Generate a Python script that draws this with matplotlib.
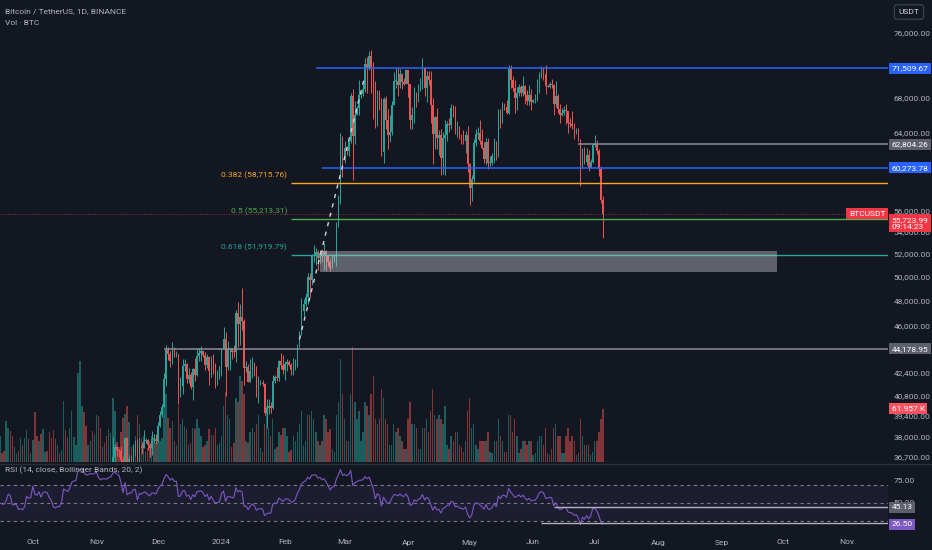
import numpy as np
import pandas as pd
import matplotlib
matplotlib.use("Agg")
import matplotlib.pyplot as plt
import matplotlib.dates as mdates
from matplotlib.lines import Line2D
from matplotlib.patches import Rectangle
from matplotlib.ticker import FixedLocator, FuncFormatter, NullLocator
from matplotlib.transforms import blended_transform_factory

plt.rcParams["font.family"] = ["Roboto", "DejaVu Sans"]

BG = "#131722"
TXT = "#b2b5be"
UP = "#26a69a"
DOWN = "#ef5350"
BLUE = "#2962ff"
GRAY = "#8a8d96"

# daily BTCUSDT candles, 2023-09-01 .. 2024-07-05, prices in thousands USDT
first_day = "2023-09-01"
close_k = [
    25.94, 25.80, 25.87, 25.78, 25.75, 25.76, 26.24, 25.90, 25.89, 25.83, 25.16, 25.84, 26.23, 26.53, 26.60,
    26.57, 26.53, 26.76, 27.21, 27.13, 26.57, 26.58, 26.58, 26.25, 26.30, 26.22, 26.37, 27.03, 26.91, 26.97,
    28.00, 27.50, 27.43, 27.78, 27.41, 27.93, 27.96, 27.92, 27.59, 27.39, 26.87, 26.76, 26.86, 26.85, 27.15, 28.50,
    28.40, 28.32, 28.71, 29.67, 29.91, 29.99, 33.07, 33.90, 34.50, 34.15, 33.89, 34.08, 34.53, 34.48, 34.64,
    35.42, 34.94, 34.73, 35.08, 35.05, 35.04, 35.42, 35.63, 36.70, 37.31, 37.13, 37.06, 36.49, 35.55, 37.88,
    36.16, 36.59, 36.58, 37.39, 37.47, 35.81, 37.42, 37.29, 37.72, 37.79, 37.45, 37.24, 37.83, 37.85, 37.71,
    38.69, 39.46, 39.97, 41.98, 44.08, 43.77, 43.29, 44.17, 43.71, 43.79, 41.24, 41.45, 42.89, 43.02, 41.94, 42.26,
    41.36, 42.66, 42.26, 43.65, 43.87, 43.99, 43.73, 43.01, 43.58, 42.51, 43.45, 42.58, 42.07, 42.14, 42.28,
    44.18, 44.95, 42.85, 44.15, 44.16, 43.97, 43.93, 46.97, 46.12, 46.65, 46.34, 42.78, 42.84, 41.73, 42.51, 43.14,
    42.74, 41.26, 41.62, 41.66, 41.58, 39.54, 39.89, 40.07, 39.93, 41.81, 42.12, 42.03, 43.30, 42.94, 42.58,
    43.08, 43.20, 42.99, 42.58, 42.66, 43.09, 44.34, 45.29, 47.13, 47.75, 48.29, 49.96, 49.70, 51.80, 51.91,
    52.14, 51.65, 52.13, 51.78, 52.26, 51.85, 51.30, 50.73, 51.57, 51.73, 54.48, 57.04, 62.43, 61.13,
    62.39, 62.03, 63.13, 68.25, 63.72, 66.07, 66.85, 68.30, 68.48, 69.02, 72.12, 71.48, 73.07, 71.39, 69.40, 65.30,
    68.39, 67.60, 61.93, 67.84, 65.50, 63.80, 64.07, 67.21, 69.99, 69.99, 69.45, 70.78, 69.85, 69.58, 71.28,
    69.65, 65.46, 65.96, 68.51, 67.84, 68.90, 69.36, 71.62, 69.14, 70.59, 70.06, 67.18, 63.90, 65.74, 63.42,
    63.81, 61.28, 63.51, 63.84, 64.99, 64.93, 66.84, 66.41, 64.29, 64.49, 63.77, 63.46, 63.12, 63.84, 60.64,
    58.25, 59.12, 62.89, 63.89, 64.03, 63.16, 62.33, 61.19, 63.07, 60.79, 60.82, 61.48, 62.94, 61.58, 66.27, 65.23,
    67.05, 66.94, 66.28, 71.45, 70.14, 69.12, 67.93, 68.53, 69.29, 68.50, 69.39, 68.37, 67.64, 68.35, 67.49,
    67.71, 67.75, 68.80, 70.55, 71.11, 70.80, 69.35, 69.31, 69.65, 69.54, 67.32, 68.24, 66.75, 66.01, 66.19,
    66.64, 66.49, 65.14, 64.96, 64.83, 64.10, 64.25, 63.18, 60.28, 61.80, 60.86, 61.67, 60.32, 60.88, 62.68,
    62.77, 62.04, 60.14, 57.04, 55.72399,
]
high_k = [
    26.13, 25.99, 26.10, 26.00, 25.88, 25.95, 26.40, 26.44, 25.94, 25.98, 25.88, 26.54, 26.40, 26.81, 26.88,
    26.68, 26.63, 27.41, 27.49, 27.40, 27.15, 26.74, 26.63, 26.72, 26.43, 26.39, 26.81, 27.30, 27.22, 27.08,
    28.06, 28.58, 27.67, 27.83, 28.12, 28.28, 28.05, 28.10, 27.99, 27.74, 27.48, 26.94, 27.10, 26.98, 27.29, 30.00,
    28.62, 28.98, 28.89, 30.21, 30.36, 30.20, 34.74, 35.28, 35.13, 34.82, 34.24, 34.48, 34.76, 34.85, 34.72,
    35.98, 35.98, 34.95, 35.28, 35.38, 35.29, 35.89, 35.98, 37.97, 37.53, 37.41, 37.23, 37.42, 36.76, 37.98,
    37.99, 36.85, 36.85, 37.50, 37.75, 37.85, 37.88, 37.65, 38.42, 37.89, 37.82, 37.59, 38.39, 38.17, 38.16,
    38.95, 39.68, 40.20, 42.41, 44.49, 44.30, 44.05, 44.70, 44.36, 44.03, 43.75, 42.10, 43.43, 43.42, 43.09, 42.73,
    42.43, 42.75, 43.47, 44.24, 44.28, 44.37, 44.02, 43.95, 43.78, 43.62, 43.68, 43.80, 43.11, 42.60, 42.90,
    44.18, 45.88, 45.50, 44.77, 44.33, 44.21, 44.49, 47.25, 47.90, 47.70, 49.05, 46.52, 43.26, 43.08, 43.40, 43.58,
    43.20, 42.93, 42.20, 41.87, 41.88, 41.70, 40.56, 40.56, 40.30, 42.23, 42.22, 42.84, 43.32, 43.88, 43.74,
    43.29, 43.42, 43.38, 43.12, 43.53, 43.40, 44.52, 45.58, 48.20, 48.16, 48.59, 50.33, 50.37, 52.00, 52.82,
    52.57, 52.38, 52.40, 52.49, 52.98, 52.37, 52.03, 51.55, 51.98, 52.00, 54.90, 57.59, 64.00, 63.68,
    63.10, 62.43, 63.23, 68.50, 69.00, 67.64, 67.00, 70.10, 68.80, 69.90, 72.80, 72.90, 73.65, 73.78, 72.35, 70.00,
    68.90, 68.90, 68.00, 68.05, 68.24, 66.65, 65.97, 67.60, 71.10, 71.55, 71.70, 71.50, 70.90, 70.30, 71.30,
    71.35, 69.68, 66.90, 69.30, 68.72, 69.63, 70.33, 72.80, 71.75, 71.20, 71.25, 71.23, 68.00, 65.95, 66.87,
    64.36, 64.50, 64.12, 65.45, 65.39, 65.70, 67.25, 67.20, 67.07, 65.29, 64.80, 63.90, 64.37, 64.24, 64.73,
    60.78, 59.60, 63.32, 64.50, 64.65, 65.50, 64.44, 62.99, 63.45, 63.45, 61.49, 61.82, 63.45, 63.10, 66.70, 66.70,
    67.45, 67.40, 67.70, 71.93, 71.95, 70.60, 70.10, 69.22, 69.58, 69.53, 70.60, 69.55, 68.90, 69.50, 69.00,
    67.86, 68.41, 70.28, 71.06, 71.76, 71.63, 71.99, 69.53, 69.85, 70.20, 69.58, 70.00, 68.45, 67.30, 66.80,
    66.99, 67.30, 66.00, 65.73, 66.48, 65.07, 64.53, 64.52, 63.37, 62.40, 62.50, 62.40, 62.19, 61.20, 62.90,
    63.84, 63.29, 62.27, 60.50, 57.47,
]
low_k = [
    25.33, 25.65, 25.70, 25.60, 25.58, 25.39, 25.64, 25.65, 25.80, 25.60, 24.90, 25.13, 25.77, 26.12, 26.23,
    26.48, 26.40, 26.39, 26.67, 26.82, 26.36, 26.49, 26.51, 26.13, 26.00, 26.07, 26.05, 26.31, 26.66, 26.89,
    26.95, 27.33, 27.16, 27.21, 27.35, 27.20, 27.84, 27.73, 27.26, 27.28, 26.55, 26.56, 26.69, 26.79, 26.83, 27.13,
    28.10, 28.14, 28.26, 28.60, 29.45, 29.61, 30.00, 32.83, 33.40, 33.70, 33.36, 33.88, 34.03, 34.04, 34.07,
    34.30, 34.74, 34.10, 34.52, 34.52, 34.73, 34.53, 35.11, 35.53, 36.32, 36.77, 36.70, 36.35, 35.10, 35.36,
    35.53, 35.88, 36.30, 36.13, 36.75, 35.63, 35.65, 36.88, 37.53, 37.60, 37.14, 36.71, 36.84, 37.56, 37.50,
    37.62, 38.65, 39.28, 39.97, 41.42, 43.34, 42.82, 43.08, 43.58, 43.56, 40.22, 40.68, 40.88, 42.52, 41.68, 41.70,
    41.25, 40.50, 41.80, 42.17, 43.29, 43.30, 43.58, 42.63, 42.75, 41.52, 42.10, 42.30, 41.30, 41.52, 41.97,
    42.16, 44.18, 40.75, 42.62, 42.61, 43.40, 43.56, 43.20, 44.30, 44.50, 45.60, 41.50, 42.43, 41.72, 41.72, 42.05,
    42.20, 40.68, 40.28, 41.50, 41.45, 39.43, 38.55, 39.48, 39.55, 39.83, 41.65, 41.80, 41.80, 42.68, 42.28,
    41.88, 42.55, 42.87, 42.23, 42.26, 42.57, 42.80, 44.33, 45.23, 46.78, 47.54, 47.72, 48.30, 49.30, 51.33,
    51.00, 50.60, 51.16, 51.30, 50.60, 50.50, 50.95, 50.52, 50.90, 51.30, 50.90, 54.45, 56.70, 59.30,
    60.80, 61.67, 61.50, 62.90, 59.00, 62.80, 66.00, 66.00, 68.00, 68.25, 68.70, 68.60, 71.33, 68.50, 65.60, 64.60,
    64.80, 66.60, 61.50, 60.78, 64.50, 62.26, 63.00, 63.80, 67.15, 69.20, 68.20, 69.10, 69.00, 69.50, 69.60,
    68.10, 64.50, 64.50, 65.10, 66.90, 67.48, 68.85, 69.04, 68.20, 67.50, 69.55, 65.10, 60.66, 62.30, 62.30,
    61.63, 59.60, 59.69, 59.60, 63.10, 64.17, 64.47, 65.76, 63.95, 63.61, 63.30, 62.83, 62.80, 61.80, 59.86,
    56.55, 56.95, 58.80, 62.60, 63.40, 62.85, 62.28, 60.83, 60.60, 60.20, 60.50, 60.63, 60.75, 61.13, 61.37, 64.60,
    65.10, 66.60, 66.10, 66.10, 69.20, 68.80, 66.30, 66.60, 68.20, 68.20, 68.24, 67.30, 67.14, 67.12, 66.60,
    67.40, 67.40, 67.60, 68.50, 70.37, 70.15, 68.49, 69.21, 69.17, 69.20, 66.05, 66.90, 66.30, 65.08, 65.90,
    66.03, 64.99, 64.06, 64.69, 64.50, 63.38, 63.95, 63.17, 58.40, 60.60, 60.70, 60.55, 60.00, 60.50, 60.80,
    62.52, 61.77, 59.42, 56.77, 53.49,
]
# daily volume, thousands of BTC
volume_k = [
    40, 12, 14, 25, 28, 33, 33, 30, 10, 14, 52, 56, 32, 38, 30, 11, 13, 48, 40, 36, 30, 18, 9, 13, 28, 20, 28, 37, 27, 11,
    26, 58, 30, 24, 33, 38, 12, 13, 35, 28, 37, 27, 20, 10, 14, 71, 37, 29, 40, 60, 29, 20, 104, 118, 65, 58, 42, 20, 25, 36, 33,
    55, 54, 40, 17, 22, 30, 38, 34, 75, 60, 23, 18, 35, 52, 56, 65, 47, 17, 15, 30, 55, 45, 28, 30, 12, 16, 25, 30, 28, 22,
    40, 24, 28, 82, 80, 52, 40, 48, 25, 20, 65, 45, 50, 42, 38, 20, 22, 40, 38, 50, 40, 30, 17, 20, 25, 38, 32, 32, 40, 20, 22,
    30, 65, 82, 55, 50, 18, 22, 75, 70, 100, 95, 80, 25, 22, 35, 40, 35, 45, 55, 16, 12, 45, 65, 40, 30, 50, 15, 18, 35, 32, 40,
    40, 30, 12, 14, 30, 25, 35, 45, 60, 20, 25, 55, 55, 60, 50, 35, 25, 20, 25, 55, 50, 35, 38, 15, 12, 55, 70, 120, 80,
    50, 25, 25, 80, 135, 70, 50, 60, 25, 35, 70, 65, 55, 80, 100, 50, 45, 50, 85, 75, 50, 45, 20, 20, 45, 35, 40, 30, 25, 15, 15,
    50, 70, 45, 45, 40, 15, 15, 40, 40, 50, 35, 60, 85, 55, 50, 55, 50, 45, 65, 20, 15, 30, 25, 35, 35, 20, 18, 12, 25, 60,
    75, 40, 45, 20, 15, 25, 25, 25, 25, 35, 12, 10, 25, 25, 50, 30, 25, 12, 12, 55, 55, 35, 50, 30, 10, 15, 25, 25, 20, 25, 25,
    8, 10, 25, 30, 30, 20, 40, 10, 8, 15, 40, 45, 30, 30, 10, 10, 30, 40, 25, 30, 25, 8, 10, 50, 30, 20, 20, 20, 8, 12,
    25, 25, 35, 50, 61.957,
]

# drawings
ray_prices = [71509.67, 60273.78, 62804.26, 44178.95]
ray_starts = ["2024-02-16", "2024-02-19", "2024-06-23", "2023-12-04"]
ray_colors = [BLUE, BLUE, GRAY, GRAY]
ray_tags = ["#2962ff", "#2962ff", "#5d606b", "#5d606b"]
fib_ratios = ["0.382", "0.5", "0.618"]
fib_prices = [58715.76, 55213.31, 51919.79]
fib_colors = ["#f5a623", "#4caf50", "#26a69a"]
fib_start = "2024-02-04"
box_dates = ["2024-02-18", "2024-09-28"]
box_prices = [50400, 52270]
trend_dates = ["2024-02-08", "2024-03-11"]
trend_prices = [44900, 70700]
last_price = 55723.99
countdown = "09:14:23"
rsi_rays = [45.13, 27.8]
rsi_ray_starts = ["2024-06-11", "2024-06-05"]
rsi_last_tag = "26.50"

# axis ticks (levels fully covered by a price tag are left out)
price_ticks = [76000, 72000, 68000, 64000, 56000, 54000, 52000, 50000,
               48000, 46000, 42400, 40800, 39400, 38000, 36700]
rsi_ticks = [75, 50]
view = ("2023-09-15", "2024-11-21")

dates = pd.date_range(first_day, periods=len(close_k), freq="D")
x = mdates.date2num(dates)
close = np.array(close_k) * 1000
high = np.array(high_k) * 1000
low = np.array(low_k) * 1000
opn = np.r_[close[0], close[:-1]]
high = np.maximum(high, np.maximum(opn, close))
low = np.minimum(low, np.minimum(opn, close))
vol = np.array(volume_k) * 1000
colors = np.where(close >= opn, UP, DOWN)

fig = plt.figure(figsize=(9.32, 5.5), dpi=100, facecolor=BG)
W, H = 932, 550
main_rect = [0, 1 - 462 / H, 888 / W, 462 / H]
rsi_rect = [0, 1 - 527 / H, 888 / W, 63 / H]

ax_vol = fig.add_axes(main_rect, facecolor=BG)
ax = fig.add_axes(main_rect, sharex=ax_vol)
ax.patch.set_visible(False)
ax_rsi = fig.add_axes(rsi_rect, facecolor=BG, sharex=ax_vol)

xl = mdates.date2num(pd.to_datetime(list(view)))
for a in (ax_vol, ax, ax_rsi):
    for s in a.spines.values():
        s.set_visible(False)
    a.tick_params(length=0, colors=TXT, labelsize=6)
ax_vol.set_xlim(*xl)

# volume
ax_vol.bar(x, vol, width=0.7, color=colors, alpha=0.5, linewidth=0)
ax_vol.set_ylim(0, 540000)
ax_vol.set_yticks([])
ax_vol.tick_params(labelbottom=False)

# candles
ax.vlines(x, low, high, color=colors, lw=0.7, zorder=2)
body = np.maximum(np.abs(close - opn), close * 0.0015)
ax.bar(x, body, bottom=np.minimum(opn, close), width=0.7, color=colors, linewidth=0, zorder=2)

ax.set_yscale("log")
ax.set_ylim(36380, 80430)
ax.yaxis.tick_right()
ax.yaxis.set_major_locator(FixedLocator(price_ticks))
ax.yaxis.set_minor_locator(NullLocator())
ax.yaxis.set_major_formatter(FuncFormatter(lambda v, p: f"{v:,.2f}"))
ax.tick_params(axis="y", pad=4)
ax.tick_params(labelbottom=False)

tr = blended_transform_factory(ax.transAxes, ax.transData)


def tag(a, trans, y, text, fc, color="white"):
    a.text(1.004, y, text, transform=trans, ha="left", va="center", fontsize=6,
           color=color, clip_on=False, zorder=10,
           bbox=dict(boxstyle="square,pad=0.3", fc=fc, ec="none"))


# horizontal rays
for p, st, c, tc in zip(ray_prices, ray_starts, ray_colors, ray_tags):
    ax.hlines(p, mdates.datestr2num(st), xl[1], color=c, lw=1.1, zorder=3)
    tag(ax, tr, p, f"{p:,.2f}", tc)

# fib retracement levels
fs = mdates.datestr2num(fib_start)
for r, p, c in zip(fib_ratios, fib_prices, fib_colors):
    ax.hlines(p, fs, xl[1], color=c, lw=1.0, zorder=3)
    ax.annotate(f"{r} ({p:,.2f})", xy=(fs, p), xytext=(-3, 5.5), textcoords="offset points",
                ha="right", va="center", fontsize=6, color=c, zorder=4)

bx = mdates.datestr2num(box_dates)
ax.add_patch(Rectangle((bx[0], box_prices[0]), bx[1] - bx[0], box_prices[1] - box_prices[0],
                       facecolor="#c8cad0", alpha=0.42, edgecolor="none", zorder=3))

ax.plot(mdates.datestr2num(trend_dates), trend_prices, color="#d1d4dc", lw=1.0,
        ls=(0, (3, 4)), zorder=3)

ax.axhline(last_price, color="#f23645", lw=0.7, ls=(0, (1, 1.5)), alpha=0.6, zorder=1)
tag(ax, tr, last_price - 900, f"{last_price:,.2f}\n{countdown}", "#f23645")
ax.text(0.997, last_price, "BTCUSDT", transform=tr, ha="right", va="center", fontsize=6,
        color="white", zorder=10, bbox=dict(boxstyle="square,pad=0.3", fc="#f23645", ec="none"))

tag(ax_vol, blended_transform_factory(ax_vol.transAxes, ax_vol.transData),
    vol[-1], f"{vol[-1] / 1000:.3f} K", "#f7525f")

# RSI
d = pd.Series(close).diff()
gain = d.clip(lower=0).ewm(alpha=1 / 14, adjust=False).mean()
loss = (-d.clip(upper=0)).ewm(alpha=1 / 14, adjust=False).mean()
rsi = (100 - 100 / (1 + gain / loss)).to_numpy()
ax_rsi.fill_between(xl, 30, 70, color="#7e57c2", alpha=0.1, linewidth=0)
for lvl in (70, 50, 30):
    ax_rsi.axhline(lvl, color="#787b86", lw=0.8, ls=(0, (3, 3)))
ax_rsi.plot(x[14:], rsi[14:], color="#7e57c2", lw=0.8)
for v, st in zip(rsi_rays, rsi_ray_starts):
    ax_rsi.hlines(v, mdates.datestr2num(st), xl[1], color="#b2b5be", lw=1.0)
ax_rsi.set_ylim(23.3, 93.3)
ax_rsi.yaxis.tick_right()
ax_rsi.set_yticks(rsi_ticks)
ax_rsi.yaxis.set_major_formatter(FuncFormatter(lambda v, p: f"{v:.2f}"))
ax_rsi.tick_params(axis="y", pad=4)
rtr = blended_transform_factory(ax_rsi.transAxes, ax_rsi.transData)
tag(ax_rsi, rtr, rsi_rays[0], f"{rsi_rays[0]:.2f}", "#5d606b")
tag(ax_rsi, rtr, 26.5, rsi_last_tag, "#7e57c2")

ax_rsi.xaxis.set_major_locator(mdates.MonthLocator())
ax_rsi.xaxis.set_major_formatter(FuncFormatter(
    lambda v, p: "2024" if mdates.num2date(v).month == 1 else mdates.num2date(v).strftime("%b")))
ax_rsi.tick_params(axis="x", pad=9)

# panel separator and header texts
fig.add_artist(Line2D([0, 1], [1 - 463.5 / H] * 2, color="#2a2e39", lw=1))
fig.text(5 / W, 1 - 11 / H, "Bitcoin / TetherUS, 1D, BINANCE", fontsize=6, color=TXT, va="center")
fig.text(5 / W, 1 - 23 / H, "Vol · BTC", fontsize=6, color=TXT, va="center")
fig.text(5 / W, 1 - 470 / H, "RSI (14, close, Bollinger Bands, 20, 2)", fontsize=6, color=TXT, va="center")
fig.text(909 / W, 1 - 12 / H, "USDT", fontsize=6, color="#d1d4dc", ha="center", va="center",
         bbox=dict(boxstyle="round,pad=0.5,rounding_size=0.3", fc=BG, ec="#434651", lw=0.8))

fig.savefig("out.png", dpi=100, facecolor=BG)
